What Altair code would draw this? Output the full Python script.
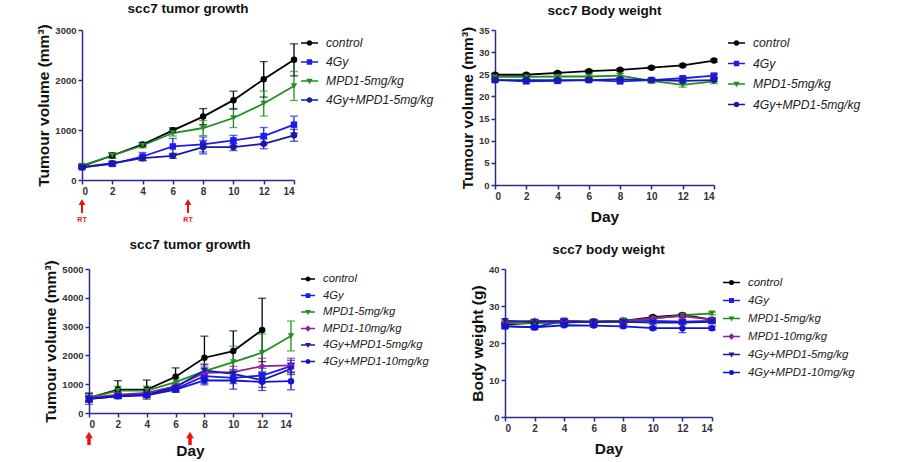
import altair as alt
import pandas as pd

days = [0, 2, 4, 6, 8, 10, 12, 14]

# ---------- Panel A: scc7 tumor growth (top left) ----------
a_groups = ["control", "4Gy", "MPD1-5mg/kg", "4Gy+MPD1-5mg/kg"]
a_control = [275, 490, 711, 993, 1268, 1597, 2013, 2403]
a_control_err = [30, 50, 40, 50, 160, 180, 355, 320]
a_4gy = [255, 322, 470, 671, 711, 792, 879, 1107]
a_4gy_err = [30, 40, 80, 160, 150, 100, 170, 170]
a_mpd1 = [290, 490, 690, 940, 1040, 1240, 1530, 1880]
a_mpd1_err = [30, 50, 50, 60, 150, 190, 250, 290]
a_combo = [255, 335, 436, 483, 658, 658, 725, 893]
a_combo_err = [30, 40, 50, 50, 135, 70, 100, 120]

# ---------- Panel B: scc7 Body weight (top right) ----------
b_groups = ["control", "4Gy", "MPD1-5mg/kg", "4Gy+MPD1-5mg/kg"]
b_control = [24.9, 24.9, 25.3, 25.7, 26.0, 26.5, 27.0, 28.1]
b_control_err = [0.3, 0.3, 0.3, 0.3, 0.3, 0.3, 0.3, 0.3]
b_4gy = [23.7, 23.4, 23.5, 23.7, 23.4, 23.7, 24.1, 24.7]
b_4gy_err = [0.4, 0.4, 0.4, 0.4, 0.4, 0.4, 0.4, 0.4]
b_mpd1 = [24.4, 24.4, 24.5, 24.5, 24.7, 23.5, 22.6, 23.4]
b_mpd1_err = [0.5, 0.5, 0.5, 0.5, 0.5, 0.5, 0.5, 0.5]
b_combo = [23.7, 23.7, 23.7, 23.7, 23.9, 23.7, 23.5, 23.7]
b_combo_err = [0.3, 0.3, 0.3, 0.3, 0.3, 0.3, 0.3, 0.3]

# ---------- Panel C: scc7 tumor growth (bottom left) ----------
c_groups = ["control", "4Gy", "MPD1-5mg/kg", "MPD1-10mg/kg",
            "4Gy+MPD1-5mg/kg", "4Gy+MPD1-10mg/kg"]
c_control = [523, 814, 814, 1256, 1919, 2151, 2884, None]
c_control_err = [150, 310, 330, 310, 750, 700, 1100, None]
c_4gy = [500, 605, 640, 837, 1280, 1221, 1302, 1628]
c_4gy_err = [200, 80, 80, 120, 250, 200, 250, 200]
c_mpd1 = [523, 780, 780, 1070, 1453, 1767, 2093, 2674]
c_mpd1_err = [100, 150, 150, 150, 250, 550, 650, 520]
c_mpd10 = [523, 640, 700, 930, 1395, 1419, 1628, 1651]
c_mpd10_err = [80, 80, 80, 120, 200, 200, 270, 250]
c_combo5 = [488, 581, 640, 895, 1477, 1360, 1140, 1535]
c_combo5_err = [80, 80, 80, 120, 200, 150, 250, 200]
c_combo10 = [488, 581, 616, 814, 1128, 1128, 1081, 1105]
c_combo10_err = [80, 60, 60, 80, 150, 300, 300, 300]

# ---------- Panel D: scc7 body weight (bottom right) ----------
d_groups = c_groups
d_control = [25.0, 25.5, 25.5, 25.8, 26.0, 27.0, 27.6, 26.3]
d_control_err = [0.4, 0.4, 0.4, 0.4, 0.4, 0.4, 0.4, 0.4]
d_4gy = [24.5, 24.3, 26.0, 25.7, 26.0, 26.0, 25.8, 26.0]
d_4gy_err = [0.5, 0.5, 0.5, 0.5, 0.5, 0.5, 0.5, 0.5]
d_mpd1 = [25.3, 25.3, 25.8, 25.8, 26.0, 26.5, 27.5, 28.0]
d_mpd1_err = [0.4, 0.4, 0.4, 0.4, 0.4, 0.4, 0.4, 0.4]
d_mpd10 = [25.5, 26.0, 26.0, 25.8, 25.8, 26.8, 27.3, 26.3]
d_mpd10_err = [0.4, 0.4, 0.4, 0.4, 0.4, 0.4, 0.4, 0.4]
d_combo5 = [26.0, 25.8, 25.8, 25.7, 25.7, 25.5, 25.5, 25.7]
d_combo5_err = [0.5, 0.5, 0.5, 0.5, 0.5, 0.5, 0.5, 0.5]
d_combo10 = [24.5, 24.2, 24.8, 24.7, 24.5, 24.0, 24.0, 24.0]
d_combo10_err = [0.4, 0.4, 0.4, 0.4, 0.4, 0.4, 1.2, 0.5]

rt_days = [0, 7]
rt_labels = ["RT", "RT"]

# styles
FONT = "Liberation Sans"
AX = "#2a2a8c"
col4 = ["#000000", "#1c1cf0", "#1f8f1f", "#1a1aa8"]
shp4 = ["circle", "square", "triangle-down", "circle"]
kind4 = ["circle", "square", "tri", "circle"]
col6 = ["#000000", "#1c1cf0", "#1f8f1f", "#8e1f9e", "#1a1aa8", "#1414d0"]
shp6 = ["circle", "square", "triangle-down", "diamond", "triangle-down", "circle"]
kind6 = ["circle", "square", "tri", "diamond", "tri", "circle"]


def leg_path(kind, r, t):
    line = f"M-1,{-t}H1V{t}H-1Z"
    if kind == "circle":
        m = f"M{-r},0A{r},{r},0,1,1,{r},0A{r},{r},0,1,1,{-r},0Z"
    elif kind == "square":
        s = r * 0.95
        m = f"M{-s},{-s}H{s}V{s}H{-s}Z"
    elif kind == "tri":
        m = f"M{-r*1.15},{-r*0.8}H{r*1.15}L0,{r*1.15}Z"
    else:
        m = f"M0,{-r*1.25}L{r*1.25},0L0,{r*1.25}L{-r*1.25},0Z"
    return line + " " + m


def make_df(groups, vals, errs):
    rows = []
    for gi, (g, vs, es) in enumerate(zip(groups, vals, errs)):
        for d, v, e in zip(days, vs, es):
            if v is None:
                continue
            rows.append({"group": g, "gi": gi, "day": d, "value": v,
                         "lo": v - e, "hi": v + e})
    return pd.DataFrame(rows)


def panel(groups, vals, errs, colors, shapes, kinds, w, h, ymax, ystep,
          title, ytitle, xtitle, xtitle_pad, leg, arrows=None, shift=0):
    df = make_df(groups, vals, errs)
    base = alt.Chart(df)
    xscale = alt.Scale(domain=[0, 14], nice=False, range=[shift, w])
    xaxis = alt.Axis(values=days, title=xtitle, titlePadding=xtitle_pad,
                     format="d", labelOverlap=False)
    yvals = list(range(0, ymax + 1, ystep))
    yscale = alt.Scale(domain=[0, ymax], nice=False)
    yaxis = alt.Axis(values=yvals, title=ytitle, format="d",
                     labelOverlap=False, offset=-shift)

    def X():
        return alt.X("day:Q", scale=xscale, axis=xaxis)

    def Y(f):
        return alt.Y(f + ":Q", scale=yscale, axis=yaxis)

    cs = alt.Scale(domain=groups, range=colors)
    col = alt.Color("group:N", scale=cs, legend=None)
    sw = leg["sym"]
    r = leg["r"] / (sw / 2)
    t = 0.8 / (sw / 2)
    paths = [leg_path(k, r, t) for k in kinds]

    err = base.mark_rule(strokeWidth=1.3).encode(
        x=X(), y=Y("lo"), y2="hi:Q", color=col)
    cap_hi = base.mark_tick(orient="horizontal", size=8, thickness=1.3).encode(
        x=X(), y=Y("hi"), color=col)
    cap_lo = base.mark_tick(orient="horizontal", size=8, thickness=1.3).encode(
        x=X(), y=Y("lo"), color=col)
    line = base.mark_line(strokeWidth=1.8).encode(
        x=X(), y=Y("value"), color=col, detail="group:N", order="day:Q")
    pts = base.mark_point(filled=True, size=42, opacity=1).encode(
        x=X(), y=Y("value"), color=col,
        shape=alt.Shape("group:N", scale=alt.Scale(domain=groups, range=shapes),
                        legend=None))
    legend_kw = dict(orient="none", legendX=leg["x"], legendY=leg["y"], title=None,
                     padding=0, symbolSize=sw * sw, symbolStrokeWidth=0,
                     symbolOpacity=1, labelOffset=leg["off"], rowPadding=leg["rp"],
                     labelFont=FONT, labelFontStyle="italic",
                     labelFontSize=leg["fs"], labelColor="#222222", labelLimit=300)
    legl = base.mark_point(filled=True, opacity=1).transform_filter(
        "datum.day < 0").encode(
        x=X(), y=Y("value"),
        color=alt.Color("group:N", scale=cs, legend=alt.Legend(**legend_kw)),
        shape=alt.Shape("group:N", scale=alt.Scale(domain=groups, range=paths),
                        legend=alt.Legend(**legend_kw)))
    layers = [err, cap_hi, cap_lo, line, pts, legl]
    if arrows is not None:
        adf = pd.DataFrame({"day": rt_days, "label": rt_labels})
        ab = alt.Chart(adf)
        layers.append(ab.mark_rule(color="#ee1111", strokeWidth=arrows["sw"]).encode(
            x=X(), y=alt.value(h + arrows["y0"] + 3), y2=alt.value(h + arrows["y1"])))
        layers.append(ab.mark_point(shape="triangle-up", filled=True, opacity=1,
                                    color="#ee1111", size=arrows["hs"]).encode(
            x=X(), y=alt.value(h + arrows["y0"] + 2)))
        if arrows.get("text"):
            layers.append(ab.mark_text(color="#ee1111", fontSize=7, font=FONT,
                                       fontWeight="bold").encode(
                x=X(), y=alt.value(h + arrows["ty"]), text="label:N"))
    ch = alt.layer(*layers).resolve_scale(color="independent", shape="independent")
    return ch.properties(
        width=w, height=h,
        title=alt.TitleParams(title, font=FONT, fontSize=13.5, fontWeight="bold",
                              anchor="middle", frame="group", offset=8, color="#111",
                              dx=shift / 2))


pA = panel(a_groups, [a_control, a_4gy, a_mpd1, a_combo],
           [a_control_err, a_4gy_err, a_mpd1_err, a_combo_err],
           col4, shp4, kind4, 212, 150, 3000, 1000, "scc7 tumor growth",
           "Tumour volume (mm³)", None, 0,
           dict(x=219, y=4.5, sym=17, r=2.8, off=8, rp=4, fs=12.2),
           arrows=dict(y0=20, y1=33, sw=2, hs=45, text=True, ty=40))
pB = panel(b_groups, [b_control, b_4gy, b_mpd1, b_combo],
           [b_control_err, b_4gy_err, b_mpd1_err, b_combo_err],
           col4, shp4, kind4, 219, 155, 35, 5, "scc7 Body weight",
           "Tumour volume (mm³)", "Day", 8,
           dict(x=233, y=4.5, sym=17, r=2.8, off=8, rp=5.5, fs=12.2))
pC = panel(c_groups, [c_control, c_4gy, c_mpd1, c_mpd10, c_combo5, c_combo10],
           [c_control_err, c_4gy_err, c_mpd1_err, c_mpd10_err, c_combo5_err, c_combo10_err],
           col6, shp6, kind6, 209, 144, 5000, 1000, "scc7 tumor growth",
           "Tumour volume (mm³)", "Day", 14,
           dict(x=219, y=3, sym=14, r=2.5, off=8, rp=3.5, fs=11.3),
           arrows=dict(y0=20, y1=32, sw=3.5, hs=60, text=False, ty=0), shift=7)
pD = panel(d_groups, [d_control, d_4gy, d_mpd1, d_mpd10, d_combo5, d_combo10],
           [d_control_err, d_4gy_err, d_mpd1_err, d_mpd10_err, d_combo5_err, d_combo10_err],
           col6, shp6, kind6, 207, 148, 40, 10, "scc7 body weight",
           "Body weight (g)", "Day", 8,
           dict(x=218, y=5, sym=17, r=2.6, off=8, rp=4, fs=11.4))

top = alt.hconcat(pA, pB, spacing=26).resolve_scale(color="independent", shape="independent")
bot = alt.hconcat(pC, pD, spacing=41).resolve_scale(color="independent", shape="independent")
chart = alt.vconcat(top, bot, spacing=13).resolve_scale(
    color="independent", shape="independent"
).properties(
    padding={"left": 36, "top": 2, "right": 0, "bottom": 0},
    background="white",
).configure_view(stroke=None).configure_axis(
    grid=False, domainColor=AX, tickColor=AX, domainWidth=1.5, tickWidth=1.5,
    tickSize=4, labelFont=FONT, labelFontWeight="bold", labelFontSize=9.5,
    labelColor="#333333", labelPadding=2, titleFont=FONT, titleFontWeight="bold",
    titleFontSize=15.5, titleColor="#111111", titlePadding=3
).configure_axisX(labelFontSize=10)

chart.save("out.html", embed_options={"renderer": "svg", "actions": False})
